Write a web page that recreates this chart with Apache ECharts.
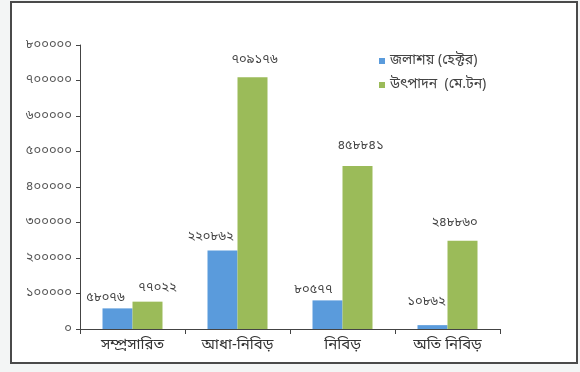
<!DOCTYPE html>
<html>
<head>
<meta charset="utf-8">
<script src="https://cdn.jsdelivr.net/npm/echarts@6/dist/echarts.min.js"></script>
<style>
  html, body { margin: 0; padding: 0; background: #f3f5f5; }
  #chart { width: 580px; height: 372px; }
</style>
</head>
<body>
<div id="chart"></div>
<script>
// Fish farming systems: water area (hectare) and production (metric ton)
const categories = ['সম্প্রসারিত', 'আধা-নিবিড়', 'নিবিড়', 'অতি নিবিড়'];
const seriesNames = ['জলাশয় (হেক্টর)', 'উৎপাদন  (মে.টন)'];
const waterArea = [58076, 220862, 80577, 10862];
const production = [77022, 709176, 458841, 248860];
const yTicks = [0, 100000, 200000, 300000, 400000, 500000, 600000, 700000, 800000];

// label nudges for each bar value
const areaLabelShift = [[-12, 0], [-12, -4], [-14, 0], [-6, -13]];
const prodLabelShift = [[10, -4], [2, -7], [3, -10], [-8, -8]];

const bnDigits = ['০', '১', '২', '৩', '৪', '৫', '৬', '৭', '৮', '৯'];
function toBengali(n) {
  return String(n).replace(/[0-9]/g, d => bnDigits[+d]);
}

const FONT = '"Noto Sans Bengali", "Noto Sans", "DejaVu Sans", sans-serif';

function makeData(values, shifts) {
  return values.map((v, i) => ({
    value: v,
    label: { offset: shifts[i] }
  }));
}

const chart = echarts.init(document.getElementById('chart'), null, { renderer: 'canvas' });
chart.setOption({
  backgroundColor: '#f3f5f5',
  animation: false,
  graphic: [{
    type: 'rect',
    shape: { x: 11, y: 2, width: 566, height: 361 },
    style: { fill: '#ffffff', stroke: '#4a4a4a', lineWidth: 2 },
    z: -10
  }],
  legend: {
    orient: 'vertical',
    left: 374,
    top: 49,
    itemWidth: 6,
    itemHeight: 6,
    itemGap: 10,
    icon: 'rect',
    textStyle: { fontFamily: FONT, fontSize: 14, color: '#444' },
    data: seriesNames
  },
  grid: { left: 80, right: 80, top: 45, bottom: 43 },
  xAxis: {
    type: 'category',
    data: categories,
    axisLine: { lineStyle: { color: '#444', width: 1 } },
    axisTick: { show: true, alignWithLabel: false, length: 5, lineStyle: { color: '#444' } },
    axisLabel: { fontFamily: FONT, fontSize: 15, color: '#333', margin: 10 }
  },
  yAxis: {
    type: 'value',
    min: yTicks[0],
    max: yTicks[yTicks.length - 1],
    interval: yTicks[1] - yTicks[0],
    splitLine: { show: false },
    axisLine: { show: true, lineStyle: { color: '#444', width: 1 } },
    axisTick: { show: true, length: 4, lineStyle: { color: '#444' } },
    axisLabel: {
      fontFamily: FONT, fontSize: 13, color: '#555', margin: 8,
      formatter: v => toBengali(v)
    }
  },
  series: [
    {
      name: seriesNames[0],
      type: 'bar',
      data: makeData(waterArea, areaLabelShift),
      barWidth: 30,
      barGap: '0%',
      itemStyle: { color: '#5a9bdc' },
      label: {
        show: true, position: 'top', distance: 3,
        fontFamily: FONT, fontSize: 13, color: '#444',
        formatter: p => toBengali(p.value)
      }
    },
    {
      name: seriesNames[1],
      type: 'bar',
      data: makeData(production, prodLabelShift),
      barWidth: 30,
      barGap: '0%',
      itemStyle: { color: '#9bbb59' },
      label: {
        show: true, position: 'top', distance: 3,
        fontFamily: FONT, fontSize: 13, color: '#444',
        formatter: p => toBengali(p.value)
      }
    }
  ]
});
</script>
</body>
</html>
